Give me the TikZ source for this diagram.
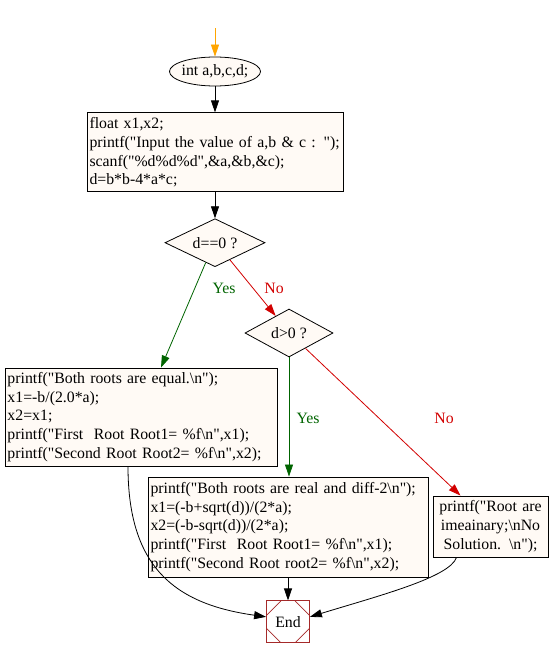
\documentclass[tikz,border=0pt]{standalone}
\usepackage{fontspec}
\setmainfont{Liberation Serif}[Ligatures=TeXOff]
\usetikzlibrary{positioning,shapes.geometric,arrows.meta}
\definecolor{paper}{RGB}{255,250,245}
\definecolor{yesgreen}{RGB}{0,100,0}
\definecolor{nored}{RGB}{210,0,0}
\definecolor{entry}{RGB}{255,165,0}
\definecolor{endred}{RGB}{165,42,42}
\newcommand\flow{\fontsize{15.8bp}{18.7bp}\selectfont}

\begin{document}
\begin{tikzpicture}[x=1bp,y=1bp,node distance=26bp,
  stmt/.style={rectangle,draw=black,line width=0.9bp,fill=paper,font=\flow,align=left,inner xsep=2.5bp,inner ysep=2bp},
  oval/.style={ellipse,draw=black,line width=0.8bp,fill=paper,font=\flow,inner xsep=-2bp,inner ysep=0pt,minimum width=91bp,minimum height=29bp},
  test/.style={diamond,draw=black,line width=0.8bp,fill=paper,font=\flow,inner sep=0pt,shape aspect=2,minimum height=48bp},
  stopbox/.style={rectangle,draw=endred,line width=0.8bp,fill=white,font=\flow,inner sep=0pt,minimum width=43bp,minimum height=42bp,
    path picture={
      \foreach \c/\dx/\dy in {north west/1/-1,north east/-1/-1,south west/1/1,south east/-1/1}
        \draw[endred,line width=0.6bp] ([yshift=\dy*14.5bp]path picture bounding box.\c) -- ([xshift=\dx*14.5bp]path picture bounding box.\c);
    }},
  arrow/.style={-{Triangle[length=12bp,width=8bp]},line width=0.8bp},
  yestext/.style={text=yesgreen,font=\flow,inner sep=0pt},
  notext/.style={text=nored,font=\flow,inner sep=0pt}
  ]
  \useasboundingbox (0,0) rectangle (550,-657);

  \coordinate (entry) at (215,-28);
  \node[oval] (start) at (215,-71.5) {int a,b,c,d;};
  \node[stmt,below=of start,text width=251bp,minimum height=79bp] (decl)
    {float x1,x2;\\
     \mbox{printf("Input the value of a,b \& c : ");}\\
     scanf("\%d\%d\%d",\&a,\&b,\&c);\\
     d=b*b-4*a*c;};
  \node[test,below=of decl,minimum width=100bp] (dzero) {d==0 ?};
  \node[test,minimum width=88bp] (dpos) at (289,-333) {d>0 ?};

  \node[stmt,text width=267bp,minimum height=98bp] (equal) at (141,-417)
    {printf("Both roots are equal.\textbackslash n");\\
     x1=-b/(2.0*a);\\
     x2=x1;\\
     \mbox{printf("First~ Root Root1= \%f\textbackslash n",x1);}\\
     \mbox{printf("Second Root Root2= \%f\textbackslash n",x2);}};
  \node[stmt,text width=275bp,minimum height=100bp] (real) at (288,-527)
    {\mbox{printf("Both roots are real and diff-2\textbackslash n");}\\
     x1=(-b+sqrt(d))/(2*a);\\
     x2=(-b-sqrt(d))/(2*a);\\
     \mbox{printf("First~ Root Root1= \%f\textbackslash n",x1);}\\
     \mbox{printf("Second Root root2= \%f\textbackslash n",x2);}};
  \node[stmt,align=center,text width=110bp,minimum height=61bp] (imag) at (490.5,-526.5)
    {printf("Root are\\
     imeainary;\textbackslash nNo\\
     Solution. \textbackslash n");};
  \node[stopbox,below=23bp of real] (stop) {End};

  % branch labels
  \node[yestext] (yes1) at (224,-288) {Yes};
  \node[notext] (no1) at (274,-288) {No};
  \node[yestext] (yes2) at (308,-418) {Yes};
  \node[notext] (no2) at (444,-418) {No};

  \draw[arrow,draw=entry] (entry) -- (start);
  \draw[arrow] (start) -- (decl);
  \draw[arrow] (decl) -- (dzero);
  \draw[arrow,draw=yesgreen] (dzero.245) -- ([xshift=20bp]equal.north);
  \draw[arrow,draw=nored] (dzero.-49) -- (dpos.128);
  \draw[arrow,draw=yesgreen] (dpos.south) -- (dpos.south |- real.north);
  \draw[arrow,draw=nored] (dpos.-43) -- ([xshift=-30bp]imag.north);
  \draw[arrow] (real) -- (stop);
  \draw[arrow] ([xshift=-13bp]equal.south) to[out=-90,in=172,out distance=100bp,in distance=93bp] ([yshift=5bp]stop.west);
  \draw[arrow] ([xshift=-34bp]imag.south) to[out=-109,in=17,out distance=21bp,in distance=73bp] ([yshift=5bp]stop.east);
\end{tikzpicture}
\end{document}
